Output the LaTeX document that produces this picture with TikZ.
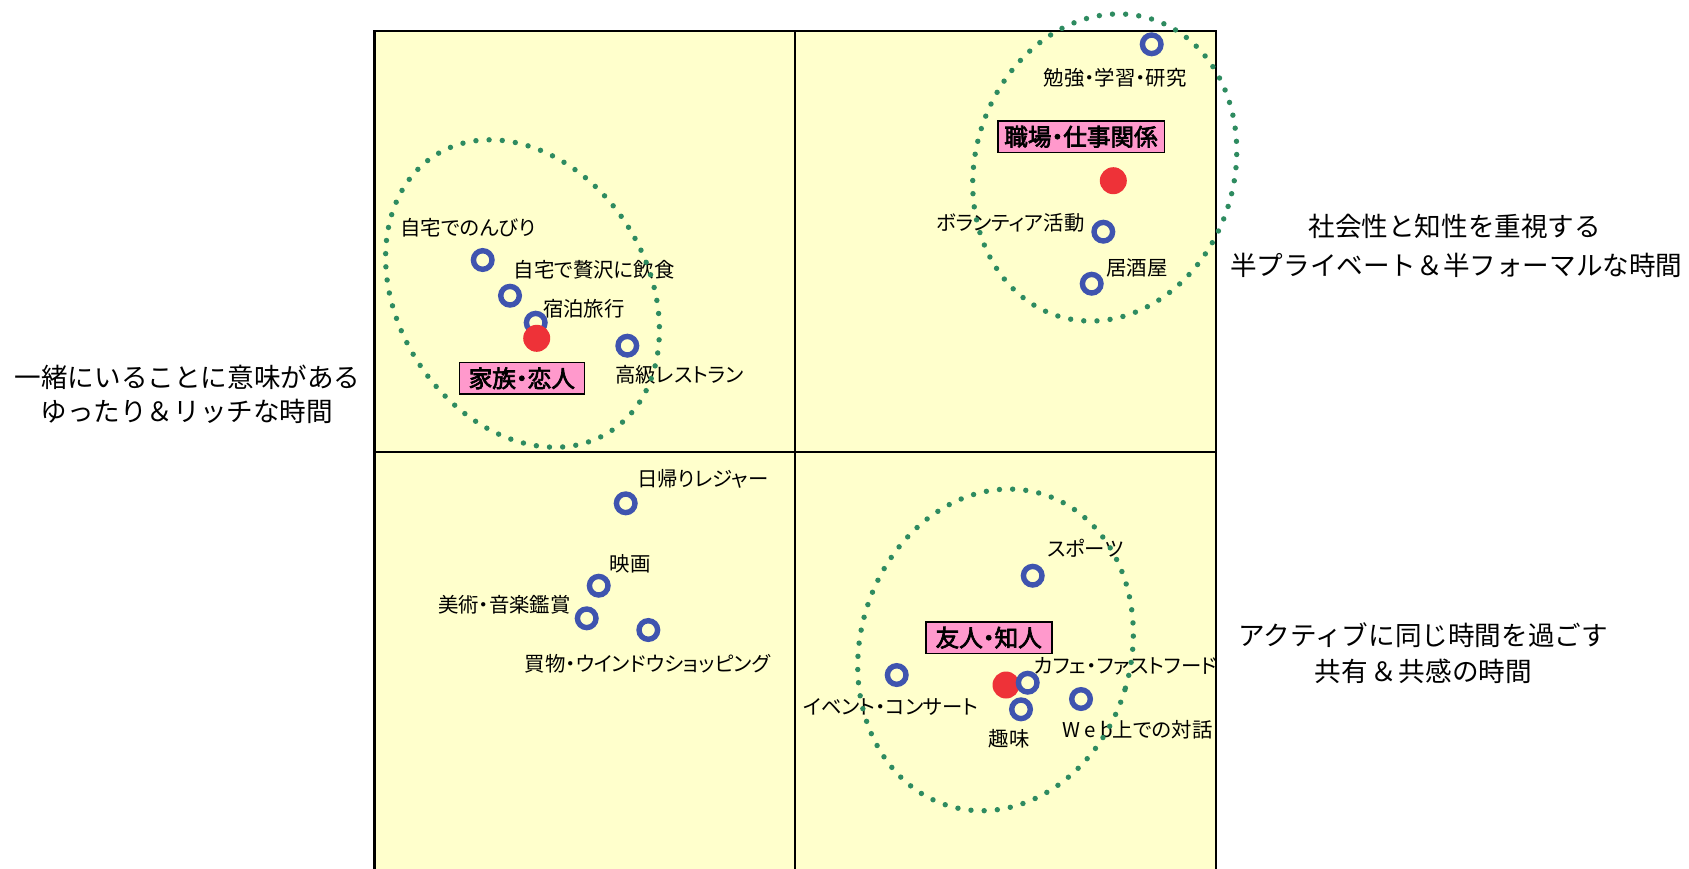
\documentclass[tikz,border=0pt]{standalone}
\usepackage{fontspec}
\newfontfamily\jp{Noto Sans CJK JP}
\newfontfamily\jpp{Noto Sans CJK JP}[RawFeature=+palt,AutoFakeBold=3]
\definecolor{bgyellow}{RGB}{255,255,204}
\definecolor{pinkbox}{RGB}{255,153,204}
\definecolor{reddot}{RGB}{238,50,56}
\definecolor{ringblue}{RGB}{63,84,175}
\definecolor{dotgreen}{RGB}{46,139,96}
\begin{document}
\begin{tikzpicture}[x=0.5pt,y=-0.5pt,
  itemlbl/.style={anchor=west, inner sep=0pt, font=\jpp\fontsize{10.2pt}{12pt}\selectfont},
  ringmark/.style={circle, draw=ringblue, line width=2.7pt, minimum size=9.3pt, inner sep=0pt},
  hubdot/.style={circle, fill=reddot, minimum size=13.5pt, inner sep=0pt},
  groupbox/.style={draw=black, line width=0.8pt, fill=pinkbox, inner sep=0pt, minimum height=15.65pt,
    font=\jpp\bfseries\fontsize{11.8pt}{13pt}\selectfont},
  sidetxt/.style={inner sep=0pt, font=\jp\fontsize{13.3pt}{16pt}\selectfont},
  groupell/.style={draw=dotgreen, line width=2.7pt, dash pattern=on 0pt off 6.6pt, line cap=round}]
\useasboundingbox (0,0) rectangle (1689,868);
% frame
\fill[bgyellow] (374.5,31) rectangle (1216,873);
\draw[line width=0.9pt] (795.3,31) -- (795.3,873);
\draw[line width=0.9pt] (374.5,452) -- (1216,452);
\draw[line width=1.4pt] (374.5,31) rectangle (1216,873);
% side texts
\node[sidetxt] (lt1) at (187.5,377.3) {一緒にいることに意味がある};
\node[sidetxt] (lt2) at (186.7,411.7) {ゆったり＆リッチな時間};
\node[sidetxt] (rt1) at (1454.7,226.7) {社会性と知性を重視する};
\node[sidetxt] (rt2) at (1456.3,265) {半プライベート＆半フォーマルな時間};
\node[sidetxt] (rb1) at (1423.3,635) {アクティブに同じ時間を過ごす};
\node[sidetxt] (rb2) at (1423.3,671.7) {共有\kern0.08em＆\kern0.08em共感の時間};
% item labels
\node[itemlbl] (l1) at (400,227.7) {自宅でのんびり};
\node[itemlbl] (l2) at (513.3,269.3) {自宅で贅沢に飲食};
\node[itemlbl] (l3) at (542.7,308.3) {宿泊旅行};
\node[itemlbl] (l4) at (615,375) {高級レストラン};
\node[itemlbl] (l5) at (1043.3,77.3) {勉強・学習・研究};
\node[itemlbl] (l6) at (935.7,223.3) {ボランティア活動};
\node[itemlbl] (l7) at (1106,267.7) {居酒屋};
\node[itemlbl] (l8) at (636.7,479) {日帰りレジャー};
\node[itemlbl] (l9) at (609.3,564) {映画};
\node[itemlbl] (l10) at (437.7,605) {美術・音楽鑑賞};
\node[itemlbl] (l11) at (524.3,664) {買物・ウインドウショッピング};
\node[itemlbl] (l12) at (1046.7,548.3) {スポーツ};
\node[itemlbl] (l13) at (802.7,706.7) {イベント・コンサート};
\node[itemlbl] (l14) at (1033.3,666) {カフェ・ファストフード};
\node[itemlbl] (l15) at (988.3,738.3) {趣味};
\node[itemlbl] (l16) at (1061.7,729.3) {W\kern2.2pt e\kern2.2pt b上での対話};
% rings
\node[ringmark] (r1) at (482.7,260) {};
\node[ringmark] (r2) at (510,295.7) {};
\node[ringmark] (r3) at (535.7,322.7) {};
\node[ringmark] (r4) at (627.3,345.7) {};
\node[ringmark] (r5) at (1151.7,44.3) {};
\node[ringmark] (r6) at (1103.3,231.7) {};
\node[ringmark] (r7) at (1091.7,283.7) {};
\node[ringmark] (r8) at (625.7,503.3) {};
\node[ringmark] (r9) at (598.7,585.7) {};
\node[ringmark] (r10) at (586.7,618.3) {};
\node[ringmark] (r11) at (648.3,630) {};
\node[ringmark] (r12) at (1032.7,575.7) {};
\node[ringmark] (r13) at (896.7,675) {};
\node[ringmark] (r15) at (1021,709.3) {};
\node[ringmark] (r16) at (1081,699) {};
% hub dots
\node[hubdot] (d1) at (536.7,338.3) {};
\node[hubdot] (d2) at (1113.3,180.7) {};
\node[hubdot] (d3) at (1006,685) {};
\node[ringmark] (r14) at (1027.7,682.7) {};
% group boxes
\node[groupbox, minimum width=62.5pt] (g1) at (521.8,378.3) {家族・恋人};
\node[groupbox, minimum width=83.3pt] (g2) at (1081,136.7) {職場・仕事関係};
\node[groupbox, minimum width=63pt] (g3) at (988.7,637.7) {友人・知人};
% dotted group ellipses
\draw[groupell, rotate around={32:(522.5,293.5)}] (522.5,293.5) ellipse [x radius=62.5pt, y radius=81.75pt];
\draw[groupell, rotate around={-17.5:(1104.7,167.5)}] (1104.7,167.5) ellipse [x radius=64.7pt, y radius=77.85pt];
\draw[groupell, rotate around={-16.4:(995.5,649.9)}] (995.5,649.9) ellipse [x radius=67.7pt, y radius=81.4pt];
\end{tikzpicture}
\end{document}
